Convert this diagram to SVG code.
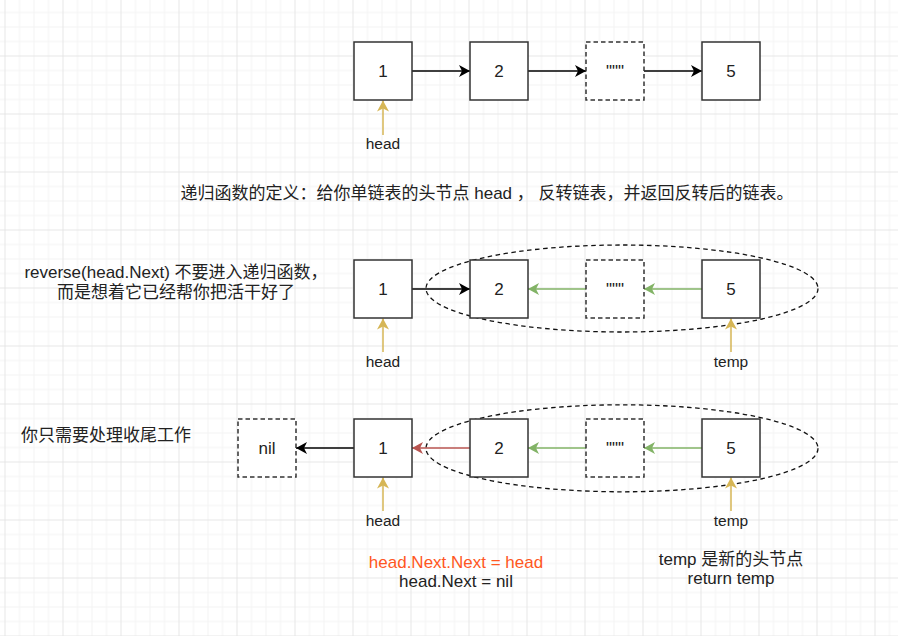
<svg xmlns="http://www.w3.org/2000/svg" width="898" height="636" viewBox="0 0 898 636">
<style>
  text { font-family: "Liberation Sans", "Noto Sans CJK SC", sans-serif; fill: #222; }
  .box { fill: #fff; stroke: #333; stroke-width: 1.5; }
  .dbox { fill: #fff; stroke: #333; stroke-width: 1.5; stroke-dasharray: 4.5 3; }
  .ell { fill: none; stroke: #111; stroke-width: 1.3; stroke-dasharray: 4.5 3.5; }
  .num { font-size: 17px; text-anchor: middle; }
  .lbl { font-size: 15.5px; text-anchor: middle; }
  .txt { font-size: 17px; }
  .blk { stroke: #000; stroke-width: 1.5; fill: none; }
  .grn { stroke: #82b366; stroke-width: 1.5; fill: none; }
  .red { stroke: #b85450; stroke-width: 1.5; fill: none; }
  .yel { stroke: #d6b656; stroke-width: 1.5; fill: none; }
</style>
<defs>
  <pattern id="grid" width="58" height="58" patternUnits="userSpaceOnUse" x="4.5" y="-2.5">
    <rect width="58" height="58" fill="#fff"/>
    <path d="M15 0V58M29.5 0V58M44 0V58M0 15H58M0 29.5H58M0 44H58" stroke="#f3f3f3" stroke-width="1"/>
    <path d="M0.5 0V58M0 0.5H58" stroke="#e6e6e6" stroke-width="1"/>
  </pattern>
  <marker id="aBlk" markerUnits="userSpaceOnUse" markerWidth="14" markerHeight="14" refX="12" refY="7" orient="auto" viewBox="0 0 14 14">
    <path d="M12 7L1 1L4 7L1 13Z" fill="#000"/>
  </marker>
  <marker id="aGrn" markerUnits="userSpaceOnUse" markerWidth="14" markerHeight="14" refX="12" refY="7" orient="auto" viewBox="0 0 14 14">
    <path d="M12 7L1 1L4 7L1 13Z" fill="#82b366"/>
  </marker>
  <marker id="aRed" markerUnits="userSpaceOnUse" markerWidth="14" markerHeight="14" refX="12" refY="7" orient="auto" viewBox="0 0 14 14">
    <path d="M12 7L1 1L4 7L1 13Z" fill="#b85450"/>
  </marker>
  <marker id="aYel" markerUnits="userSpaceOnUse" markerWidth="14" markerHeight="14" refX="12" refY="7" orient="auto" viewBox="0 0 14 14">
    <path d="M12 7L1 1L4 7L1 13Z" fill="#d6b656"/>
  </marker>
</defs>
<rect width="898" height="636" fill="url(#grid)"/>

<!-- ellipses (groups) -->
<g id="group-row2"><ellipse class="ell" cx="622" cy="288.5" rx="196" ry="43.5"/></g>
<g id="group-row3"><ellipse class="ell" cx="622" cy="448.3" rx="196" ry="43.5"/></g>

<g id="connectors">
  <!-- row 1 -->
  <line class="blk" x1="412" y1="71" x2="470" y2="71" marker-end="url(#aBlk)"/>
  <line class="blk" x1="528" y1="71" x2="586" y2="71" marker-end="url(#aBlk)"/>
  <line class="blk" x1="644" y1="71" x2="702" y2="71" marker-end="url(#aBlk)"/>
  <line class="yel" x1="383" y1="135" x2="383" y2="100.5" marker-end="url(#aYel)"/>
  <!-- row 2 -->
  <line class="blk" x1="412" y1="289" x2="470" y2="289" marker-end="url(#aBlk)"/>
  <line class="grn" x1="586" y1="289" x2="528" y2="289" marker-end="url(#aGrn)"/>
  <line class="grn" x1="702" y1="289" x2="644" y2="289" marker-end="url(#aGrn)"/>
  <line class="yel" x1="383" y1="352" x2="383" y2="318.5" marker-end="url(#aYel)"/>
  <line class="yel" x1="731" y1="352" x2="731" y2="318.5" marker-end="url(#aYel)"/>
  <!-- row 3 -->
  <line class="blk" x1="354" y1="448" x2="296" y2="448" marker-end="url(#aBlk)"/>
  <line class="red" x1="470" y1="448" x2="412" y2="448" marker-end="url(#aRed)"/>
  <line class="grn" x1="586" y1="448" x2="528" y2="448" marker-end="url(#aGrn)"/>
  <line class="grn" x1="702" y1="448" x2="644" y2="448" marker-end="url(#aGrn)"/>
  <line class="yel" x1="383" y1="511" x2="383" y2="477.5" marker-end="url(#aYel)"/>
  <line class="yel" x1="731" y1="511" x2="731" y2="477.5" marker-end="url(#aYel)"/>
</g>

<!-- row 1 nodes -->
<g id="r1-n1"><rect class="box" x="354" y="42" width="58" height="58"/><text class="num" x="383" y="77">1</text></g>
<g id="r1-n2"><rect class="box" x="470" y="42" width="58" height="58"/><text class="num" x="499" y="77">2</text></g>
<g id="r1-n3"><rect class="dbox" x="586" y="42" width="58" height="58"/><text class="num" x="615" y="77">&quot;&quot;&quot;</text></g>
<g id="r1-n5"><rect class="box" x="702" y="42" width="58" height="58"/><text class="num" x="731" y="77">5</text></g>
<g id="r1-head"><text class="lbl" x="383" y="149">head</text></g>

<g id="definition"><text class="txt" x="487" y="199" text-anchor="middle">递归函数的定义：给你单链表的头节点 head ， 反转链表，并返回反转后的链表。</text></g>

<!-- row 2 nodes -->
<g id="r2-note"><text class="txt" text-anchor="middle"><tspan x="176" y="278">reverse(head.Next) 不要进入递归函数，</tspan><tspan x="176" y="298">而是想着它已经帮你把活干好了</tspan></text></g>
<g id="r2-n1"><rect class="box" x="354" y="260" width="58" height="58"/><text class="num" x="383" y="295">1</text></g>
<g id="r2-n2"><rect class="box" x="470" y="260" width="58" height="58"/><text class="num" x="499" y="295">2</text></g>
<g id="r2-n3"><rect class="dbox" x="586" y="260" width="58" height="58"/><text class="num" x="615" y="295">&quot;&quot;&quot;</text></g>
<g id="r2-n5"><rect class="box" x="702" y="260" width="58" height="58"/><text class="num" x="731" y="295">5</text></g>
<g id="r2-head"><text class="lbl" x="383" y="367">head</text></g>
<g id="r2-temp"><text class="lbl" x="731" y="367">temp</text></g>

<!-- row 3 nodes -->
<g id="r3-note"><text class="txt" x="21" y="441">你只需要处理收尾工作</text></g>
<g id="r3-nil"><rect class="dbox" x="238" y="419" width="58" height="58"/><text class="num" x="267" y="454">nil</text></g>
<g id="r3-n1"><rect class="box" x="354" y="419" width="58" height="58"/><text class="num" x="383" y="454">1</text></g>
<g id="r3-n2"><rect class="box" x="470" y="419" width="58" height="58"/><text class="num" x="499" y="454">2</text></g>
<g id="r3-n3"><rect class="dbox" x="586" y="419" width="58" height="58"/><text class="num" x="615" y="454">&quot;&quot;&quot;</text></g>
<g id="r3-n5"><rect class="box" x="702" y="419" width="58" height="58"/><text class="num" x="731" y="454">5</text></g>
<g id="r3-head"><text class="lbl" x="383" y="525.5">head</text></g>
<g id="r3-temp"><text class="lbl" x="731" y="525.5">temp</text></g>

<g id="r3-code"><text class="txt" x="456" y="567.5" text-anchor="middle" style="fill:#ff5722">head.Next.Next = head</text><text class="txt" x="456" y="587" text-anchor="middle">head.Next = nil</text></g>
<g id="r3-result"><text class="txt" text-anchor="middle"><tspan x="731" y="565">temp 是新的头节点</tspan><tspan x="731" y="584">return temp</tspan></text></g>
</svg>
